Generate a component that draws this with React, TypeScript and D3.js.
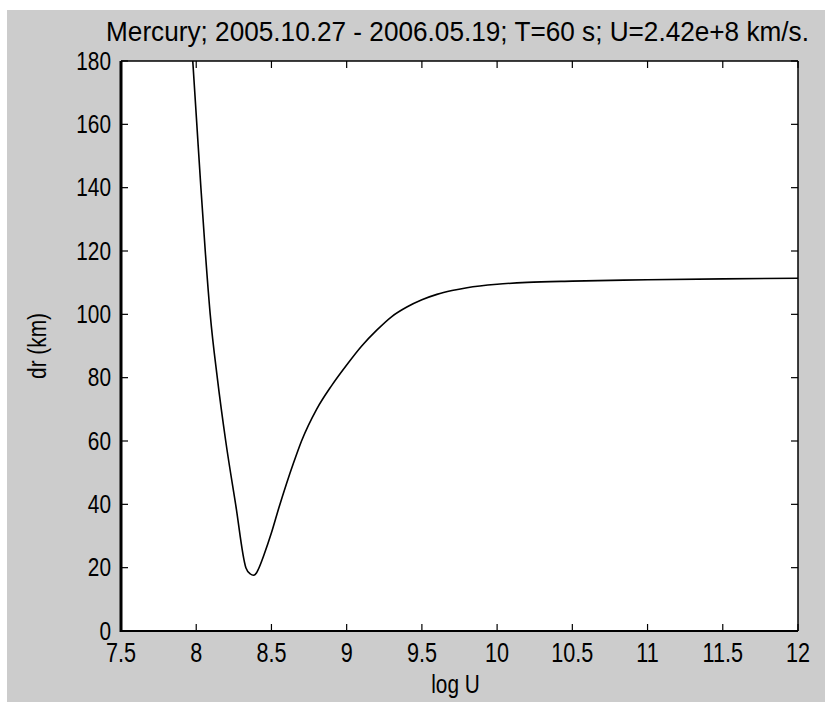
import React from "react";
import * as d3 from "d3";

// logU / dr values
const logU = [
  7.977, 8.004, 8.031, 8.06, 8.093, 8.14, 8.196, 8.262, 8.33, 8.36, 8.38, 8.4,
  8.413, 8.45, 8.5, 8.55, 8.6, 8.65, 8.7, 8.8, 8.9, 9.0, 9.1, 9.2, 9.3, 9.4,
  9.5, 9.6, 9.7, 9.8, 10.0, 10.2, 10.5, 11.0, 11.5, 12.0,
];
const dr = [
  180, 160, 140, 120, 100, 80, 60, 40, 20, 18, 17.6, 18.3, 19.5, 24, 31, 39,
  46.5, 53.5, 60, 70, 77.5, 84, 90, 95, 99.3, 102.3, 104.6, 106.3, 107.5, 108.4,
  109.5, 110.1, 110.5, 110.9, 111.2, 111.4,
];
const xTicks = [7.5, 8, 8.5, 9, 9.5, 10, 10.5, 11, 11.5, 12];
const yTicks = [0, 20, 40, 60, 80, 100, 120, 140, 160, 180];

const title = "Mercury; 2005.10.27 - 2006.05.19; T=60 s; U=2.42e+8 km/s.";
const xLabel = "log U";
const yLabel = "dr (km)";

const W = 825;
const H = 702;
const margin = { top: 61, right: 27, bottom: 71, left: 121 };
const font = "'Liberation Sans', Arial, sans-serif";

// text squeezed horizontally, like the narrow screen font of the original
const Narrow = ({ x, y, size, anchor, rotate = 0, sx = 0.8, children }: any) => (
  <text
    transform={`translate(${x},${y}) rotate(${rotate}) scale(${sx},1)`}
    fontSize={size}
    textAnchor={anchor}
    fill="#000"
  >
    {children}
  </text>
);

export default function App() {
  const x = d3
    .scaleLinear()
    .domain([7.5, 12])
    .range([margin.left, W - margin.right]);
  const y = d3
    .scaleLinear()
    .domain([0, 180])
    .range([H - margin.bottom, margin.top]);

  const points = logU.map((u, i) => [u, dr[i]] as [number, number]);
  const line = d3
    .line<[number, number]>()
    .x((d) => x(d[0]))
    .y((d) => y(d[1]))
    .curve(d3.curveMonotoneX);

  const x0 = margin.left;
  const x1 = W - margin.right;
  const y0 = H - margin.bottom;
  const y1 = margin.top;
  const tick = 7;
  const cx = (x0 + x1) / 2;

  return (
    <svg
      width={W}
      height={H}
      style={{ position: "absolute", left: 0, top: 0 }}
      fontFamily={font}
    >
      <rect x={0} y={0} width={W} height={H} fill="#ffffff" />
      <rect x={7} y={10} width={W - 7} height={H - 10} fill="#cccccc" />
      <rect x={x0} y={y1} width={x1 - x0} height={y0 - y1} fill="#ffffff" />

      <defs>
        <clipPath id="plot-clip">
          <rect x={x0} y={y1 - 1} width={x1 - x0} height={y0 - y1 + 1} />
        </clipPath>
      </defs>

      {/* curve */}
      <path
        d={line(points) || ""}
        fill="none"
        stroke="#000"
        strokeWidth={1.6}
        clipPath="url(#plot-clip)"
      />

      {/* box */}
      <line x1={x0} x2={x1} y1={y1} y2={y1} stroke="#000" strokeWidth={1.5} />
      <line x1={x1} x2={x1} y1={y1} y2={y0} stroke="#000" strokeWidth={1.5} />
      <line x1={x0 - 1} x2={x1} y1={y0} y2={y0} stroke="#000" strokeWidth={2} />
      <line x1={x0} x2={x0} y1={y1} y2={y0 + 1} stroke="#000" strokeWidth={3} />

      {/* x ticks */}
      {xTicks.map((t) => (
        <g key={"x" + t}>
          <line x1={x(t)} x2={x(t)} y1={y0} y2={y0 - tick} stroke="#000" strokeWidth={1.2} />
          <line x1={x(t)} x2={x(t)} y1={y1} y2={y1 + tick} stroke="#000" strokeWidth={1.2} />
          <Narrow x={x(t)} y={y0 + 31} size={27} anchor="middle">
            {t}
          </Narrow>
        </g>
      ))}

      {/* y ticks */}
      {yTicks.map((t) => (
        <g key={"y" + t}>
          <line x1={x0} x2={x0 + tick} y1={y(t)} y2={y(t)} stroke="#000" strokeWidth={1.2} />
          <line x1={x1} x2={x1 - tick} y1={y(t)} y2={y(t)} stroke="#000" strokeWidth={1.2} />
          <Narrow x={x0 - 10} y={y(t) + 8.5} size={26} anchor="end">
            {t}
          </Narrow>
        </g>
      ))}

      <Narrow x={cx - 2} y={41} size={27} anchor="middle" sx={0.97}>
        {title}
      </Narrow>
      <Narrow x={cx - 4} y={693} size={26} anchor="middle">
        {xLabel}
      </Narrow>
      <Narrow x={46} y={(y0 + y1) / 2} size={26} anchor="middle" rotate={-90}>
        {yLabel}
      </Narrow>
    </svg>
  );
}
